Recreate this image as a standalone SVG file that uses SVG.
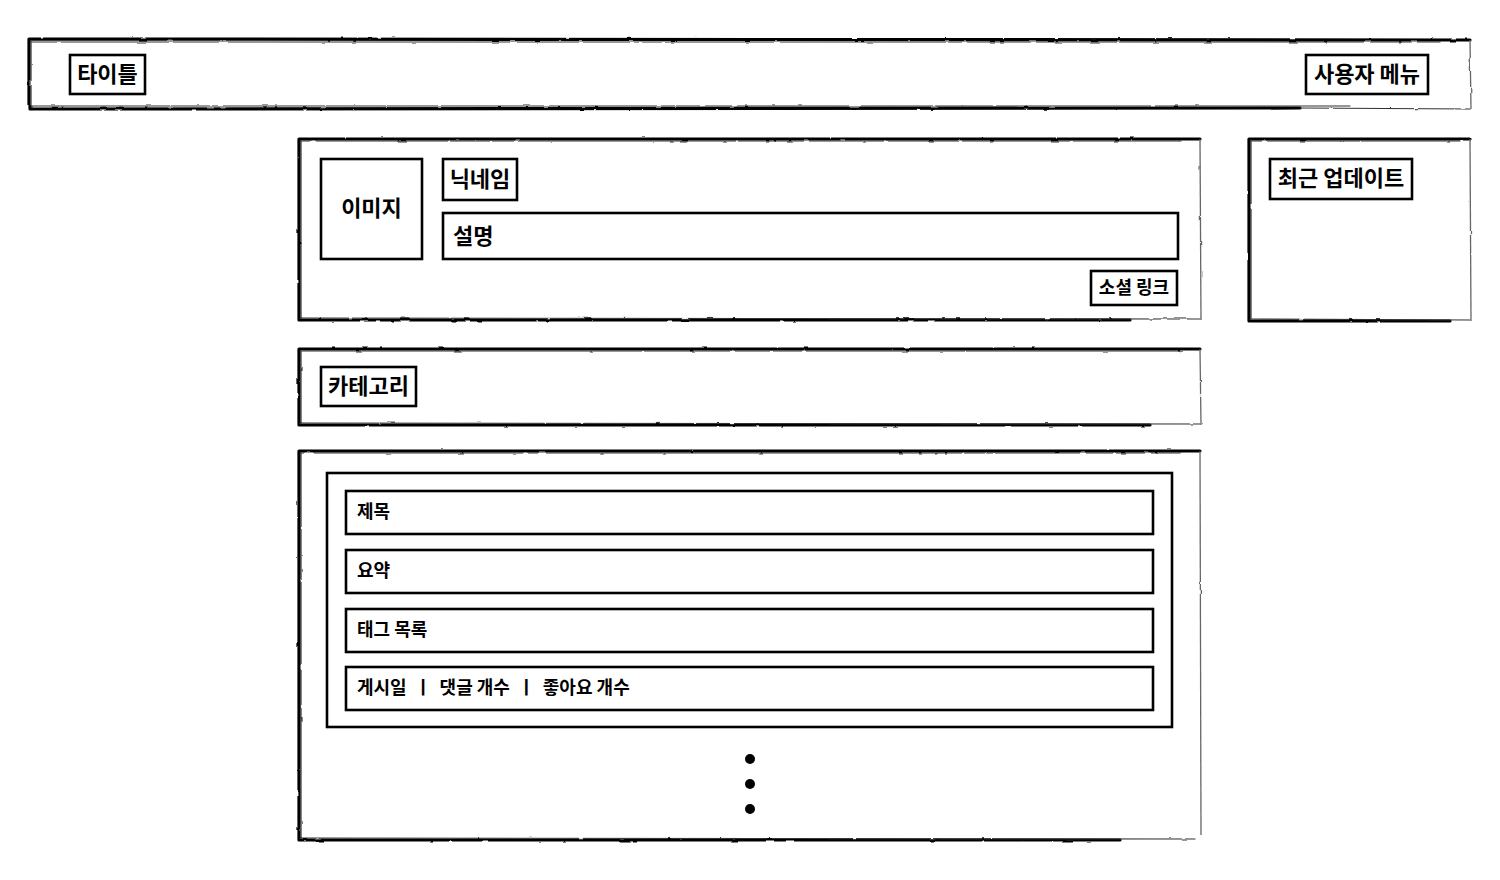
<svg xmlns="http://www.w3.org/2000/svg" width="1500" height="880" viewBox="0 0 1500 880">
<defs>
<filter id="rough" x="-5%" y="-5%" width="110%" height="110%">
<feTurbulence type="fractalNoise" baseFrequency="0.08" numOctaves="2" seed="3" result="n"/>
<feDisplacementMap in="SourceGraphic" in2="n" scale="2.2" xChannelSelector="R" yChannelSelector="G"/>
</filter>
<style>
.t{font-family:"Noto Sans CJK KR","Noto Sans",sans-serif;font-weight:700;fill:#000}
.l{font-size:22px}
.s{font-size:18px}
.bx{fill:#fff;stroke:#000;stroke-width:2.6}
.ed{fill:none;stroke:#000;stroke-width:3.2;stroke-linecap:round}
.ed2{fill:none;stroke:#333;stroke-width:1.2;stroke-linecap:round}
.rt{fill:none;stroke:#666;stroke-width:1.3}
.sk{filter:url(#rough)}
</style>
</defs>
<rect width="1500" height="880" fill="#fff"/>

<g id="header">
<g class="sk">
<path class="ed" d="M29 39 L1470 40 M29 39 L29 109 M29 109 L1300 108"/>
<path class="ed2" d="M32 42 L1440 42 M31 41 L31 108 M30 106 L1350 106 M1300 108 L1470 109"/>
<path class="rt" d="M1470 40 L1471 109"/>
</g>
<g id="title"><rect class="bx" x="70" y="55" width="75" height="39"/><text class="t l" x="107.5" y="82" text-anchor="middle">타이틀</text></g>
<g id="usermenu"><rect class="bx" x="1306" y="55" width="122" height="39"/><text class="t l" x="1367" y="82" text-anchor="middle">사용자 메뉴</text></g>
</g>

<g id="profile">
<g class="sk">
<path class="ed" d="M299 139 L1200 139 M299 139 L299 320 M299 320 L1130 320"/>
<path class="ed2" d="M301 141 L1180 141 M301 141 L301 318 M300 318 L1200 319"/>
<path class="rt" d="M1200 139 L1201 320"/>
</g>
<g id="image"><rect class="bx" x="321" y="159" width="101" height="100"/><text class="t l" x="371.5" y="216" text-anchor="middle">이미지</text></g>
<g id="nickname"><rect class="bx" x="443" y="159" width="74" height="41"/><text class="t l" x="480" y="187" text-anchor="middle">닉네임</text></g>
<g id="desc"><rect class="bx" x="443" y="213" width="735" height="46"/><text class="t l" x="453" y="244">설명</text></g>
<g id="social"><rect class="bx" x="1091" y="271" width="86" height="34"/><text class="t s" x="1134" y="294" text-anchor="middle">소셜 링크</text></g>
</g>

<g id="recent">
<g class="sk">
<path class="ed" d="M1249 139 L1470 139 M1249 139 L1249 321 M1249 321 L1450 321"/>
<path class="ed2" d="M1251 141 L1460 141 M1251 141 L1251 319 M1250 319 L1470 320"/>
<path class="rt" d="M1470 139 L1471 321"/>
</g>
<g id="recent-label"><rect class="bx" x="1270" y="159" width="142" height="40"/><text class="t l" x="1341" y="186" text-anchor="middle">최근 업데이트</text></g>
</g>

<g id="category">
<g class="sk">
<path class="ed" d="M299 349 L1200 349 M299 349 L299 425 M299 425 L1150 425"/>
<path class="ed2" d="M301 351 L1180 351 M301 351 L301 423 M300 423 L1200 424"/>
<path class="rt" d="M1200 349 L1201 425"/>
</g>
<g id="category-label"><rect class="bx" x="321" y="367" width="95" height="39"/><text class="t l" x="368.5" y="394" text-anchor="middle">카테고리</text></g>
</g>

<g id="posts">
<g class="sk">
<path class="ed" d="M299 451 L1200 451 M299 451 L299 840 M299 840 L1120 840"/>
<path class="ed2" d="M301 453 L1180 453 M301 453 L301 838 M300 838 L1195 839"/>
<path class="rt" d="M1200 451 L1201 835"/>
</g>
<g id="post-card">
<rect class="bx" x="327" y="473" width="845" height="254"/>
<g id="post-title"><rect class="bx" x="346" y="491" width="807" height="43"/><text class="t s" x="357" y="518">제목</text></g>
<g id="post-summary"><rect class="bx" x="346" y="550" width="807" height="43"/><text class="t s" x="357" y="577">요약</text></g>
<g id="post-tags"><rect class="bx" x="346" y="609" width="807" height="43"/><text class="t s" x="357" y="636">태그 목록</text></g>
<g id="post-meta"><rect class="bx" x="346" y="667" width="807" height="43"/><text class="t s" x="357" y="694" xml:space="preserve">게시일  ㅣ  댓글 개수  ㅣ  좋아요 개수</text></g>
</g>
<g id="more"><circle cx="750" cy="759" r="5"/><circle cx="750" cy="784" r="5"/><circle cx="750" cy="809" r="5"/></g>
</g>
</svg>
